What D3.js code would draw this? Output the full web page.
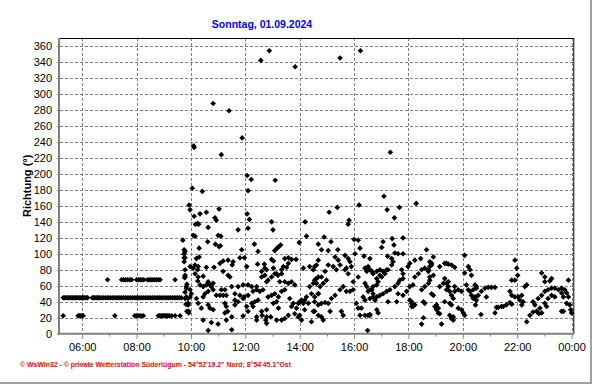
<!DOCTYPE html>
<html>
<head>
<meta charset="utf-8">
<script src="https://cdn.jsdelivr.net/npm/d3@7"></script>
<style>
  body { margin: 0; background: #fff; }
  #chart { width: 592px; height: 384px; }
  text { font-family: "Liberation Sans", Arial, sans-serif; }
</style>
</head>
<body>
<div id="chart"></div>
<script>
// data: wind direction (°), Sonntag 01.09.2024
const title = "Sonntag, 01.09.2024"
const yLabel = "Richtung  (°)"
const footer = "\u00A9 WsWin32  -  \u00A9 private Wetterstation Süderlügum  -  54°52'19.2\" Nord; 8°54'45.1\"Ost"

const hourTicks = ["06:00", "08:00", "10:00", "12:00", "14:00", "16:00", "18:00", "20:00", "22:00", "00:00"]
const hourMinorTicks = ["07:00", "09:00", "11:00", "13:00", "15:00", "17:00", "19:00", "21:00", "23:00"]
const dirTicks = [0, 20, 40, 60, 80, 100, 120, 140, 160, 180, 200, 220, 240, 260, 280, 300, 320, 340, 360]
const dirMinorTicks = [10, 30, 50, 70, 90, 110, 130, 150, 170, 190, 210, 230, 250, 270, 290, 310, 330, 350]

// morning: calm, 16-point compass steps
const morningNNE = ["05:18", "05:51", "05:54", "05:57", "06:00", "06:02", "07:12", "07:56", "08:00", "08:05",
  "08:10", "08:15", "08:48", "08:51", "08:54", "08:57", "09:00", "09:03", "09:06", "09:09", "09:12", "09:17",
  "09:25", "09:36"]
const morningNE = ["05:18", "05:21", "05:24", "05:27", "05:30", "05:33", "05:36", "05:39", "05:42", "05:45",
  "05:48", "05:51", "05:54", "05:57", "06:00", "06:03", "06:06", "06:09", "06:12", "06:22", "06:25", "06:28",
  "06:31", "06:34", "06:37", "06:39", "06:43", "06:47", "06:51", "06:55", "06:59", "07:03", "07:07", "07:11",
  "07:15", "07:19", "07:23", "07:27", "07:31", "07:35", "07:39", "07:43", "07:47", "07:51", "07:55", "07:59",
  "08:03", "08:07", "08:11", "08:15", "08:19", "08:23", "08:27", "08:31", "08:35", "08:39", "08:43", "08:47",
  "08:51", "08:55", "08:59", "09:03", "09:07", "09:11", "09:15", "09:19", "09:23", "09:27", "09:31", "09:35", "09:39"]
const morningENE = ["06:56", "07:27", "07:31", "07:35", "07:40", "07:45", "07:49", "08:00", "08:04", "08:08",
  "08:12", "08:16", "08:24", "08:28", "08:32", "08:36", "08:40", "08:44", "08:48", "08:52", "09:25"]
const dirNNE = 22.5, dirNE = 45, dirENE = 67.5

const highPoints = [["12:53",354],["12:34",342],["13:50",334],["15:29",345],["16:14",354],["10:49",288],
  ["11:24",279],["11:53",245],["10:06",235],["10:07",233],["11:07",224],["12:04",198],["12:13",193],
  ["13:06",192],["10:03",182],["10:25",178],["12:06",179],["09:56",161],["11:02",156],["15:23",158],
  ["16:11",161],["17:20",227],["17:06",172],["17:40",158],["18:17",163],["17:13",155]]

// wind picking up before 10:00
const block0940 = [["09:42",117],["09:45",105],["09:45",100],["09:45",95],["09:45",90],["09:47",73],
  ["09:46",70],["09:51",62],["09:50",57],["09:47",52],["09:50",46],["09:47",44],["09:49",37],["09:52",37],
  ["09:54",36],["09:51",28]]

const block10to14 = [["09:58",155],["10:07",147],["10:20",150],["10:34",152],["10:53",145],["10:56",142],
  ["10:15",138],["10:17",137],["10:10",137],["10:38",133],["12:04",150],["12:09",143],["12:06",132],
  ["11:44",130],["12:58",140],["13:01",130],["14:12",140],["14:15",122],["10:05",123],["10:09",122],
  ["11:00",123],["11:06",122],["10:18",107],["10:37",115],["10:54",112],["11:02",109],["11:05",110],
  ["12:20",112],["12:28",103],["11:52",105],["13:05",104],["13:10",107],["13:14",109],["13:18",111],
  ["13:59",114],["14:41",112],["09:47",103],["09:47",95],["10:18",96],["10:12",94],["10:09",86],
  ["11:48",95],["11:58",95],["11:11",91],["11:22",92],["11:33",90],["11:04",88],["11:31",86],["12:58",93],
  ["13:02",91],["13:27",94],["13:35",95],["13:42",93],["13:52",93],["12:03",84],["12:27",87],["12:42",87],
  ["12:43",82],["09:58",84],["10:05",82],["10:16",84],["10:15",80],["10:34",83],["10:51",83],["09:47",80],
  ["09:47",71],["11:11",78],["11:22",73],["11:26",71],["13:02",82],["13:09",75],["13:20",80],["13:24",84],
  ["13:31",83],["13:35",88],["14:08",82],["14:22",84],["14:30",80],["14:37",86],["09:50",59],["09:58",55],
  ["10:01",50],["09:53",44],["09:54",38],["09:55",28],["10:09",75],["10:16",71],["10:15",66],["10:20",61],
  ["10:27",59],["10:34",61],["10:42",61],["10:45",59],["10:38",53],["10:49",55],["10:56",48],["11:04",48],
  ["11:11",48],["11:18",48],["11:07",55],["11:15",55],["10:31",50],["10:27",46],["09:58",46],["10:12",44],
  ["10:16",38],["10:23",32],["09:55",26],["10:27",17],["10:45",14],["11:00",12],["10:38",4],["10:38",36],
  ["10:42",32],["10:49",30],["11:15",38],["11:18",34],["11:15",26],["11:21",28],["11:30",59],["11:44",59],
  ["11:55",61],["12:06",61],["12:14",59],["12:25",59],["11:37",50],["11:48",48],["11:57",46],["12:06",48],
  ["12:17",53],["12:25",55],["12:32",53],["12:39",55],["11:37",42],["11:44",40],["11:55",44],["11:37",36],
  ["11:30",21],["11:18",17],["11:30",5],["11:55",22],["12:14",38],["12:21",40],["12:28",42],["12:17",34],
  ["12:03",34],["12:06",28],["12:25",21],["12:25",17],["12:36",28],["12:37",23],["12:47",21],["12:45",17],
  ["12:47",13],["12:56",21],["12:47",30],["12:36",71],["12:43",73],["12:47",80],["12:36",78],["12:47",65],
  ["12:50",67],["12:58",71],["13:05",75],["13:12",73],["13:20",75],["13:16",65],["12:50",46],["12:58",48],
  ["13:05",50],["13:13",46],["13:20",53],["13:27",55],["13:02",38],["13:09",40],["13:13",32],["13:09",17],
  ["13:20",17],["13:27",19],["13:35",23],["13:27",65],["13:35",63],["13:42",65],["13:49",61],["13:38",44],
  ["13:46",38],["13:42",34],["13:53",32],["13:57",38],["14:00",40],["14:04",42],["14:08",38],["14:11",42],
  ["14:15",46],["13:49",25],["13:57",21],["14:00",23],["14:04",17],["14:11",30],["14:19",38],["14:22",59],
  ["14:30",63],["14:33",67],["14:37",69],["14:41",71],["14:26",50],["14:33",46],["14:41",50],["14:30",28],
  ["14:26",15],["10:27",72],["10:38",65],["10:49",63]]

const block14to19 = [["15:05",152],["17:29",145],["15:49",142],["15:47",137],["14:54",121],["15:09",115],
  ["14:48",105],["15:03",104],["15:24",105],["16:00",118],["16:09",117],["17:04",115],["17:01",108],
  ["17:24",119],["17:28",111],["17:48",120],["17:30",101],["17:37",100],["17:48",100],["16:22",97],
  ["16:35",94],["17:14",97],["17:23",94],["14:41",92],["14:33",84],["15:18",96],["15:25",92],["15:40",98],
  ["15:47",94],["15:51",90],["16:02",100],["15:54",84],["15:43",82],["15:47",75],["15:03",86],["15:14",84],
  ["15:21",80],["15:29",86],["15:40",80],["14:56",78],["14:48",71],["14:59",67],["14:52",63],["14:37",63],
  ["14:45",59],["14:41",50],["14:33",40],["14:41",36],["14:48",38],["14:56",39],["15:03",38],["15:10",44],
  ["15:18",48],["15:29",55],["15:36",59],["15:43",53],["15:51",53],["15:58",55],["14:33",28],["14:41",23],
  ["14:48",21],["14:52",17],["15:07",28],["15:32",28],["15:36",23],["16:09",32],["16:16",32],["16:13",23],
  ["16:24",23],["16:31",23],["16:35",24],["16:05",38],["16:30",4],["15:58",65],["16:09",71],["16:24",82],
  ["16:31",84],["16:35",80],["16:24",63],["16:28",59],["16:31",53],["16:39",55],["16:42",59],["16:50",61],
  ["16:53",65],["17:01",71],["17:08",75],["17:15",80],["17:23",86],["17:26",90],["16:20",46],["16:24",42],
  ["16:35",44],["16:42",46],["16:46",42],["16:57",48],["17:04",50],["17:12",53],["17:19",55],["16:50",30],
  ["16:53",26],["17:15",40],["17:34",40],["17:30",59],["17:37",63],["17:41",67],["17:48",69],["17:37",50],
  ["17:48",48],["17:56",53],["18:03",59],["18:10",61],["18:03",42],["18:07",38],["18:10",34],["18:14",36],
  ["17:45",80],["17:48",75],["17:59",84],["18:03",88],["18:14",92],["18:27",94],["18:40",105],["18:55",96],
  ["18:51",88],["18:14",71],["18:22",75],["18:29",80],["18:36",82],["18:44",78],["18:47",71],["18:55",73],
  ["18:29",55],["18:36",59],["18:44",63],["18:47",67],["18:51",50],["18:55",48],["18:33",40],["18:36",38],
  ["18:58",34],["19:02",30],["19:06",26],["18:33",20],["18:29",12],["19:13",12],["19:09",59],["19:17",63],
  ["19:24",55],["19:28",65],["19:09",84],["19:24",88],["18:47",90],["18:51",86],["18:47",84],["18:44",80],
  ["16:42",75],["16:50",78],["16:57",73],["17:04",78],["17:12",80],["16:35",55],["16:42",50],["16:46",44],
  ["16:50",46],["18:07",40],["18:07",34],["16:35",23],["19:02",36],["19:06",32],["19:09",25],["16:13",107],
  ["16:39",78],["16:28",78],["16:50",69],["16:57",80]]

const block19to24 = [["20:04",98],["21:55",92],["19:20",88],["19:28",87],["19:35",86],["19:42",83],
  ["20:12",84],["20:16",80],["20:19",73],["20:04",76],["21:59",82],["22:01",73],["21:55",67],["21:48",67],
  ["22:54",76],["23:01",71],["23:16",69],["23:12",66],["23:01",65],["23:53",67],["19:20",69],["19:24",63],
  ["19:28",59],["19:31",53],["19:35",48],["19:39",44],["19:20",40],["19:31",38],["19:35",36],["19:50",32],
  ["19:57",30],["20:01",26],["20:04",23],["19:42",59],["19:50",55],["19:57",53],["19:42",53],["19:31",23],
  ["19:35",19],["19:39",17],["19:35",19],["19:39",21],["20:08",61],["20:12",55],["20:16",53],["20:23",55],
  ["20:30",57],["20:19",48],["20:23",44],["20:27",46],["20:30",42],["20:28",36],["20:34",48],["20:41",53],
  ["20:49",57],["20:56",58],["21:03",58],["21:11",58],["20:27",61],["20:30",59],["20:52",46],["20:40",24],
  ["21:11",26],["21:14",33],["21:18",33],["21:25",34],["21:29",34],["21:36",36],["21:44",39],["21:48",37],
  ["21:44",53],["21:48",48],["21:55",46],["22:02",46],["22:10",48],["22:17",59],["22:21",61],["22:06",42],
  ["22:13",40],["22:10",36],["22:21",15],["22:28",23],["22:35",27],["22:43",28],["22:48",25],["22:35",40],
  ["22:39",36],["22:46",44],["22:54",48],["23:01",53],["23:08",55],["23:16",57],["23:23",57],["23:31",55],
  ["23:38",57],["23:45",55],["23:49",51],["23:53",46],["22:50",32],["22:54",26],["23:01",38],["23:08",44],
  ["23:16",48],["23:23",46],["23:38",51],["23:42",46],["23:56",36],["23:58",30],["00:00",26],["23:38",28],
  ["23:05",34],["23:49",38],["23:42",28]]

// time "HH:MM" -> minutes since 00:00 of the day, 00:00 belongs to the next midnight
const toMin = (s) => {
  const [h, m] = s.split(':').map(Number)
  const v = h * 60 + m
  return v < 300 ? v + 1440 : v
}

const points = [
  ...morningNNE.map(t => [t, dirNNE]),
  ...morningNE.map(t => [t, dirNE]),
  ...morningENE.map(t => [t, dirENE]),
  ...highPoints, ...block0940, ...block10to14, ...block14to19, ...block19to24
]

const xAccessor = d => toMin(d[0])
const yAccessor = d => d[1]

// dimensions
const dimensions = {
  width: 592,
  height: 384,
  margin: { top: 38, left: 60 },
  ctrWidth: 514.3,
  ctrHeight: 295.7
}

const svg = d3.select('#chart')
  .append('svg')
  .attr('width', dimensions.width)
  .attr('height', dimensions.height)

// window frame
svg.append('rect').attr('x', 590).attr('y', 0).attr('width', 2).attr('height', 384).attr('fill', '#a0a0a0')
svg.append('rect').attr('x', 0).attr('y', 382).attr('width', 590).attr('height', 2).attr('fill', '#a0a0a0')

const ctr = svg.append('g')
  .attr('transform', `translate(${dimensions.margin.left}, ${dimensions.margin.top})`)

// scales
const xScale = d3.scaleLinear()
  .domain([311, 1446])
  .range([0, dimensions.ctrWidth])
const yScale = d3.scaleLinear()
  .domain([0, 370])
  .range([dimensions.ctrHeight, 0])

// grid
ctr.append('g')
  .selectAll('line')
  .data(dirTicks.filter(d => d > 0))
  .join('line')
  .attr('x1', 0).attr('x2', dimensions.ctrWidth)
  .attr('y1', d => Math.round(yScale(d)) + 0.5)
  .attr('y2', d => Math.round(yScale(d)) + 0.5)
  .attr('stroke', '#808080')
  .attr('stroke-dasharray', '3,2')

ctr.append('g')
  .selectAll('line')
  .data(hourTicks)
  .join('line')
  .attr('x1', d => Math.round(xScale(toMin(d))) + 0.5)
  .attr('x2', d => Math.round(xScale(toMin(d))) + 0.5)
  .attr('y1', 0).attr('y2', dimensions.ctrHeight)
  .attr('stroke', '#808080')
  .attr('stroke-dasharray', '3,2')

// frame top / right
ctr.append('path')
  .attr('d', `M0,0.5H${dimensions.ctrWidth - 0.5}V${dimensions.ctrHeight}`)
  .attr('fill', 'none')
  .attr('stroke', '#000')

// axes
const xAxis = d3.axisBottom(xScale)
  .tickValues(hourTicks.map(toMin))
  .tickFormat((d, i) => hourTicks[i])
  .tickSize(5)
  .tickPadding(5)

ctr.append('g')
  .attr('transform', `translate(0, ${dimensions.ctrHeight})`)
  .call(xAxis)

const xMinor = d3.axisBottom(xScale)
  .tickValues(hourMinorTicks.map(toMin))
  .tickFormat('')
  .tickSize(3)

ctr.append('g')
  .attr('transform', `translate(0, ${dimensions.ctrHeight})`)
  .call(xMinor)

const yAxis = d3.axisLeft(yScale)
  .tickValues(dirTicks)
  .tickSize(3)
  .tickPadding(5)

ctr.append('g').call(yAxis)

const yMinor = d3.axisLeft(yScale)
  .tickValues(dirMinorTicks)
  .tickFormat('')
  .tickSize(2)

ctr.append('g').call(yMinor)

ctr.selectAll('.domain').remove()
ctr.selectAll('.tick line').attr('stroke', '#808080')
ctr.selectAll('.tick text')
  .attr('fill', '#000')
  .style('font-size', '11px')
  .style('font-family', '"Liberation Sans", Arial, sans-serif')

// axis lines (thick gray)
ctr.append('line')
  .attr('x1', -1).attr('x2', -1)
  .attr('y1', 0).attr('y2', dimensions.ctrHeight + 1)
  .attr('stroke', '#808080').attr('stroke-width', 2)
ctr.append('line')
  .attr('x1', -2).attr('x2', dimensions.ctrWidth)
  .attr('y1', dimensions.ctrHeight).attr('y2', dimensions.ctrHeight)
  .attr('stroke', '#808080').attr('stroke-width', 2)

// draw points
const marker = d3.symbol().type(d3.symbolSquare).size(16)
ctr.append('g')
  .selectAll('path')
  .data(points)
  .join('path')
  .attr('d', marker)
  .attr('transform', d => `translate(${xScale(xAccessor(d))}, ${yScale(yAccessor(d))}) rotate(45)`)
  .attr('fill', '#000')

// labels
svg.append('text')
  .attr('x', 262)
  .attr('y', 28)
  .attr('text-anchor', 'middle')
  .attr('fill', '#0000ff')
  .style('font-size', '10.5px')
  .style('font-weight', 'bold')
  .text(title)

svg.append('text')
  .attr('transform', `translate(31, ${dimensions.margin.top + dimensions.ctrHeight / 2}) rotate(-90)`)
  .attr('text-anchor', 'middle')
  .attr('fill', '#000')
  .style('font-size', '11px')
  .style('font-weight', 'bold')
  .text(yLabel)

svg.append('text')
  .attr('x', 20)
  .attr('y', 367)
  .attr('fill', '#ff0000')
  .attr('textLength', 271)
  .attr('lengthAdjust', 'spacingAndGlyphs')
  .style('font-size', '7px')
  .style('font-weight', 'bold')
  .text(footer)
</script>
</body>
</html>
